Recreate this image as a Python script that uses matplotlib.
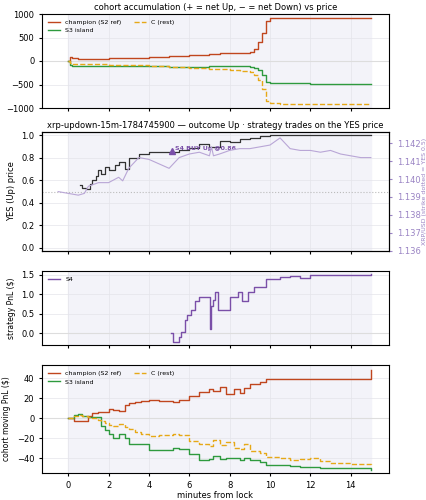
import numpy as np
import matplotlib.pyplot as plt

plt.rcParams['font.size'] = 6

# cohort accumulation (shares)
t_acc = [0, 0.1, 0.2, 0.5, 1, 2, 3, 4, 5, 6, 7, 7.5, 8, 8.5, 9, 9.2, 9.4, 9.6, 9.8, 10, 10.5, 12, 14, 15]
champ_acc = [0, 90, 60, 50, 50, 60, 70, 80, 100, 120, 140, 160, 160, 170, 200, 250, 400, 600, 850, 910, 910, 910, 910, 910]
s3_acc = [0, -80, -110, -110, -110, -100, -100, -100, -120, -130, -110, -110, -100, -100, -120, -150, -200, -300, -450, -470, -470, -490, -490, -490]
c_acc = [0, -40, -60, -60, -70, -80, -90, -100, -120, -140, -160, -170, -200, -210, -240, -300, -400, -600, -850, -900, -910, -910, -910, -910]

# YES price and XRP spot
t_yes = [0.6, 0.7, 0.9, 1.0, 1.1, 1.2, 1.4, 1.5, 1.6, 1.8, 2.0, 2.3, 2.5, 2.8, 3.0, 3.5, 4.0, 5.0, 5.5, 6.0, 6.5, 7.0, 7.5, 8.0, 8.5, 9.0, 9.5, 10, 12, 15]
yes_p = [0.56, 0.53, 0.52, 0.52, 0.57, 0.60, 0.64, 0.69, 0.66, 0.72, 0.69, 0.74, 0.76, 0.70, 0.80, 0.83, 0.85, 0.85, 0.87, 0.89, 0.92, 0.90, 0.95, 0.94, 0.97, 0.98, 0.99, 1.0, 1.0, 1.0]
t_xrp = [-0.5, 0, 0.5, 0.8, 1.0, 1.5, 2.0, 2.5, 2.7, 3.0, 3.5, 4.0, 5.0, 5.5, 6.0, 6.5, 7.0, 7.1, 7.2, 7.5, 8.0, 8.5, 9.0, 9.5, 10.0, 10.5, 11.0, 11.5, 12.0, 12.5, 13.0, 13.5, 14.0, 14.5, 15.0]
xrp = [1.1393, 1.1392, 1.1391, 1.1392, 1.1396, 1.1398, 1.1398, 1.1401, 1.1399, 1.1406, 1.1412, 1.1411, 1.1406, 1.1412, 1.1414, 1.1415, 1.1413, 1.1418, 1.1413, 1.1414, 1.1416, 1.1417, 1.1417, 1.1418, 1.1419, 1.1423, 1.1417, 1.1416, 1.1416, 1.1415, 1.1416, 1.1414, 1.1413, 1.1412, 1.1412]

# strategy PnL
t_s4 = [5.1, 5.2, 5.5, 5.6, 5.8, 5.9, 6.1, 6.3, 6.5, 6.8, 7.05, 7.1, 7.2, 7.3, 7.4, 7.6, 8.0, 8.4, 8.6, 8.9, 9.2, 9.8, 10.5, 11.0, 11.5, 12.0, 12.5, 13.0, 14.0, 15.0]
s4_pnl = [0.0, -0.22, -0.1, 0.03, 0.35, 0.48, 0.6, 0.82, 0.94, 0.94, 0.12, 0.7, 0.85, 1.06, 0.6, 0.6, 0.94, 1.06, 0.82, 1.06, 1.2, 1.4, 1.45, 1.46, 1.43, 1.49, 1.5, 1.51, 1.5, 1.52]

# cohort moving PnL
t_pnl = [0, 0.3, 0.5, 0.7, 1.0, 1.2, 1.5, 1.6, 1.8, 2.0, 2.2, 2.5, 2.8, 3.0, 3.3, 3.6, 4.0, 4.5, 5.2, 5.5, 6.0, 6.5, 7.0, 7.2, 7.5, 7.8, 8.2, 8.5, 8.7, 9.0, 9.5, 9.8, 10.5, 11, 11.5, 12, 12.5, 13, 14, 15]
champ_pnl = [0, -3, -3, -3, 2, 5, 6, 6, 6, 9, 8, 7, 13, 15, 16, 17, 18, 17, 16, 18, 22, 26, 29, 27, 31, 24, 29, 25, 30, 34, 36, 39, 39, 39, 39, 39, 39, 39, 39, 48]
s3_pnl = [0, 3, 4, 2, 1, 1, 1, -8, -12, -16, -20, -16, -20, -26, -26, -26, -32, -32, -30, -31, -36, -42, -41, -38, -41, -40, -40, -42, -40, -42, -44, -47, -47, -48, -49, -49, -50, -50, -50, -52]
c_pnl = [0, 2, 3, 2, 1, 0, -2, -3, -5, -7, -8, -6, -9, -11, -14, -16, -18, -17, -16, -17, -23, -26, -28, -22, -27, -24, -30, -31, -26, -33, -35, -39, -40, -42, -41, -40, -43, -45, -46, -47]

RED, GREEN, ORANGE, PURPLE = '#c0461e', '#2e9a3e', '#e6a817', '#7a4fa8'
BG = '#f3f3f9'

W, H = 427, 500
fig = plt.figure(figsize=(4.27, 5), dpi=100)


def box(top, bottom, left=42, right=389):
    return [left / W, 1 - bottom / H, (right - left) / W, (bottom - top) / H]


ax1 = fig.add_axes(box(14, 108))
ax2 = fig.add_axes(box(132, 251), sharex=ax1)
ax3 = fig.add_axes(box(271, 345), sharex=ax1)
ax4 = fig.add_axes(box(365, 473), sharex=ax1)
axes = [ax1, ax2, ax3, ax4]
for ax in axes:
    ax.axvspan(0, 15, color=BG, zorder=0)
    ax.set_xlim(-1.3, 15.9)
    ax.grid(True, color='#e4e4ea', lw=0.5)
    ax.tick_params(labelsize=6, length=2)
for ax in axes[:3]:
    ax.tick_params(labelbottom=False)

# panel 1
ax1.axhline(0, color='#dddddd', lw=0.8)
ax1.step(t_acc, champ_acc, where='post', color=RED, lw=1, label='champion (S2 ref)')
ax1.step(t_acc, s3_acc, where='post', color=GREEN, lw=1, label='S3 island')
ax1.step(t_acc, c_acc, where='post', color=ORANGE, lw=1, ls='--', label='C (rest)')
ax1.set_ylim(-1000, 1000)
ax1.set_yticks([-1000, -500, 0, 500, 1000])
ax1.set_ylabel('acc. net YES (shares)', fontsize=6)
ax1.set_title('cohort accumulation (+ = net Up, − = net Down) vs price', fontsize=6, pad=3)
ax1.legend(loc='upper left', ncol=2, fontsize=4.5, frameon=False)

# panel 2
ax2.axhline(0.5, color='#bbbbbb', lw=0.8, ls=':')
ax2.step(t_yes, yes_p, where='post', color='#333333', lw=0.9)
ax2.plot(5.15, 0.86, marker='^', color=PURPLE, ms=5)
ax2.text(5.3, 0.87, 'S4 BUY Up @0.86', color=PURPLE, fontsize=4.5, fontweight='bold')
ax2.set_ylim(-0.03, 1.03)
ax2.set_ylabel('YES (Up) price', fontsize=6)
ax2.set_title('xrp-updown-15m-1784745900 — outcome Up · strategy trades on the YES price',
              fontsize=6, pad=3)
ax2r = ax2.twinx()
ax2r.plot(t_xrp, xrp, color='#b9a6d6', lw=0.8)
ax2r.set_ylim(1.13598, 1.14263)
ax2r.set_yticks([1.136, 1.137, 1.138, 1.139, 1.140, 1.141, 1.142])
ax2r.tick_params(labelsize=6, colors='#9a84c4', length=2)
ax2r.set_ylabel('XRP/USD (strike dotted = YES 0.5)', fontsize=4.5, color='#9a84c4', labelpad=1)

# panel 3
ax3.axhline(0, color='#dddddd', lw=0.8)
ax3.step(t_s4, s4_pnl, where='post', color=PURPLE, lw=1, label='S4')
ax3.set_ylim(-0.3, 1.6)
ax3.set_yticks([0, 0.5, 1.0, 1.5])
ax3.set_ylabel('strategy PnL ($)', fontsize=5.5)
ax3.legend(loc='upper left', fontsize=4.5, frameon=False)

# panel 4
ax4.axhline(0, color='#dddddd', lw=0.8)
ax4.step(t_pnl, champ_pnl, where='post', color=RED, lw=1, label='champion (S2 ref)')
ax4.step(t_pnl, s3_pnl, where='post', color=GREEN, lw=1, label='S3 island')
ax4.step(t_pnl, c_pnl, where='post', color=ORANGE, lw=1, ls='--', label='C (rest)')
ax4.set_ylim(-55, 53)
ax4.set_yticks([-40, -20, 0, 20, 40])
ax4.set_ylabel('cohort moving PnL ($)', fontsize=5.5)
ax4.set_xlabel('minutes from lock', fontsize=6, labelpad=1)
ax4.set_xticks([0, 2, 4, 6, 8, 10, 12, 14])
ax4.legend(loc='upper left', ncol=2, fontsize=4.5, frameon=False)

fig.savefig('out.png')
